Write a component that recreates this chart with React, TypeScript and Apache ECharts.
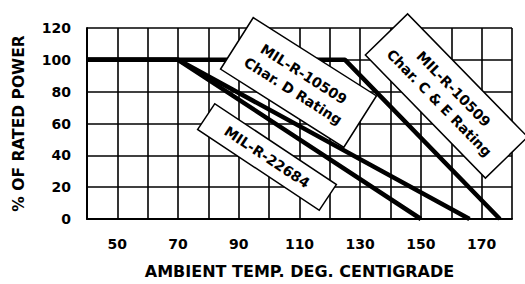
import React, { useEffect, useRef } from "react";
import * as echarts from "echarts";

const xTicks = [40, 180, 10];
const yTicks = [0, 120, 20];
const xLabelValues = [50, 70, 90, 110, 130, 150, 170];
const mil22684 = [[40, 100], [70, 100], [150, 0]];
const charD = [[40, 100], [70, 100], [166, 0]];
const charCE = [[40, 100], [125, 100], [176, 0]];
const xName = "AMBIENT TEMP. DEG. CENTIGRADE";
const yName = "% OF RATED POWER";
const labelD = "MIL-R-10509\nChar. D Rating";
const label22684 = "MIL-R-22684";
const labelCE = "MIL-R-10509\nChar. C & E Rating";

const FONT = "'DejaVu Sans', sans-serif";

function box(cx: number, cy: number, angleDeg: number, w: number, h: number, text: string) {
  return {
    type: "group",
    x: cx,
    y: cy,
    rotation: (-angleDeg * Math.PI) / 180,
    z: 100,
    children: [
      {
        type: "rect",
        shape: { x: -w / 2, y: -h / 2, width: w, height: h },
        style: { fill: "#fff", stroke: "#000", lineWidth: 1.5 },
        z: 100,
      },
      {
        type: "text",
        x: 0,
        y: 0,
        z: 101,
        style: {
          text,
          fill: "#000",
          fontSize: 14,
          fontWeight: "bold",
          fontFamily: FONT,
          align: "center",
          verticalAlign: "middle",
          lineHeight: 20,
        },
      },
    ],
  };
}

export default function App() {
  const ref = useRef<HTMLDivElement>(null);
  useEffect(() => {
    const chart = echarts.init(ref.current!, null, { renderer: "svg" });
    const lineSeries = (data: number[][]) => ({
      type: "line",
      data,
      symbol: "none",
      lineStyle: { color: "#000", width: 4.5 },
      z: 5,
    });
    chart.setOption({
      animation: false,
      backgroundColor: "#fff",
      grid: { left: 87, right: 13, top: 28, bottom: 59 },
      xAxis: {
        type: "value",
        min: xTicks[0],
        max: xTicks[1],
        interval: xTicks[2],
        name: xName,
        nameLocation: "middle",
        nameGap: 44,
        nameTextStyle: { fontSize: 16, fontWeight: "bold", fontFamily: FONT, color: "#000" },
        axisLine: { lineStyle: { color: "#000", width: 2 } },
        axisTick: { show: false },
        axisLabel: {
          margin: 18,
          fontSize: 14,
          fontWeight: "bold",
          fontFamily: FONT,
          color: "#000",
          formatter: (v: number) => (xLabelValues.includes(v) ? String(v) : ""),
        },
        splitLine: { show: true, lineStyle: { color: "#000", width: 1.6 } },
      },
      yAxis: {
        type: "value",
        min: yTicks[0],
        max: yTicks[1],
        interval: yTicks[2],
        name: yName,
        nameLocation: "middle",
        nameGap: 60,
        nameTextStyle: { fontSize: 15.5, fontWeight: "bold", fontFamily: FONT, color: "#000" },
        axisLine: { show: true, lineStyle: { color: "#000", width: 2 } },
        axisTick: { show: false },
        axisLabel: {
          margin: 16,
          fontSize: 14,
          fontWeight: "bold",
          fontFamily: FONT,
          color: "#000",
        },
        splitLine: { show: true, lineStyle: { color: "#000", width: 1.6 } },
      },
      series: [lineSeries(mil22684), lineSeries(charD), lineSeries(charCE)],
      graphic: [
        box(298.5, 82.5, 32.4, 146, 61, labelD),
        box(267, 157, 33.6, 146, 31, label22684),
        box(446.5, 96, 45.7, 172, 59, labelCE),
      ],
    });
    return () => chart.dispose();
  }, []);
  return (
    <div
      ref={ref}
      style={{ position: "fixed", left: 0, top: 0, width: 525, height: 284, background: "#fff" }}
    />
  );
}
